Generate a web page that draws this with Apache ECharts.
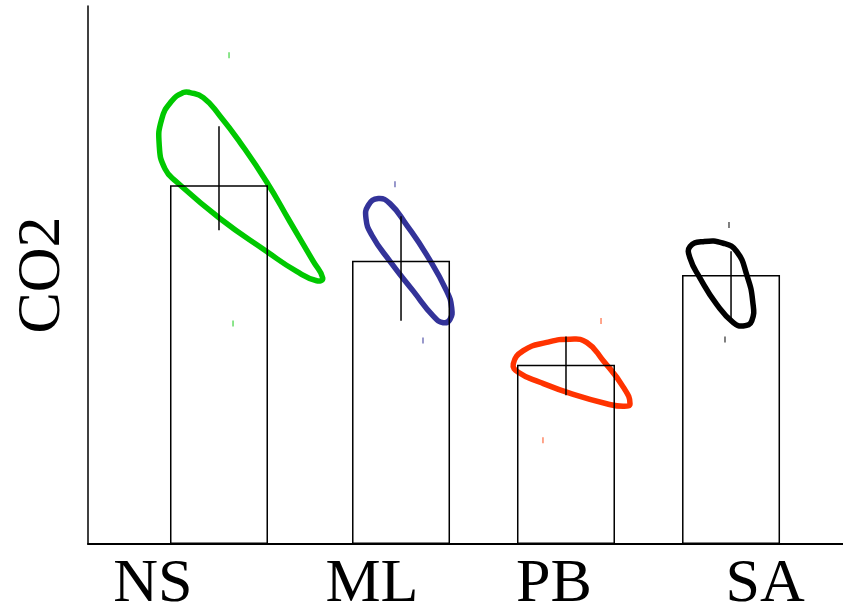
<!DOCTYPE html>
<html>
<head>
<meta charset="utf-8">
<script src="https://cdn.jsdelivr.net/npm/echarts@6/dist/echarts.min.js"></script>
<style>
  html, body { margin: 0; padding: 0; background: #fff; }
  #chart { width: 843px; height: 616px; }
</style>
</head>
<body>
<div id="chart"></div>
<script>
// categories and where their labels sit on the x scale
const categories = ['NS', 'ML', 'PB', 'SA'];
const labelX = [8.6, 37.6, 61.7, 89.7];

// bar means and error bar ranges (CO2)
const barX = [17.35, 41.46, 63.31, 85.17];
const barValues = [20.0, 15.8, 10.0, 15.0];
const errLow = [17.5, 12.45, 8.3, 12.45];
const errHigh = [23.3, 18.27, 11.57, 16.33];

// confidence contours around each group
const loopNS = [[13.51, 25.17], [15.27, 24.89], [17.48, 23.87], [20.13, 22.40], [23.67, 20.19], [26.75, 17.97],
  [29.84, 15.76], [31.09, 14.83], [30.29, 14.68], [27.64, 15.20], [23.67, 16.31], [17.48, 18.15],
  [11.75, 20.19], [10.20, 20.92], [9.44, 22.21], [9.76, 23.69], [11.09, 24.70], [12.62, 25.17]];
const loopML = [[38.45, 19.26], [40.00, 18.98], [42.21, 17.78], [44.86, 16.12], [47.51, 14.10], [48.17, 13.17],
  [47.95, 12.53], [47.06, 12.34], [45.74, 12.71], [43.09, 14.10], [40.00, 15.76], [37.58, 17.23],
  [36.82, 18.15], [37.13, 18.89]];
const loopPB = [[56.33, 10.04], [57.66, 10.78], [60.75, 11.24], [63.84, 11.42], [66.05, 11.24], [68.25, 10.22],
  [70.90, 8.75], [71.79, 7.82], [70.90, 7.68], [68.70, 7.82], [64.28, 8.34], [59.87, 9.02], [56.99, 9.58]];
const loopSA = [[79.74, 16.59], [81.50, 16.86], [84.15, 16.77], [85.92, 16.31], [87.24, 15.02], [88.04, 13.54],
  [87.91, 12.44], [86.79, 12.16], [85.47, 12.34], [83.27, 13.36], [81.06, 14.83], [79.74, 15.94]];

// small marks above and below each contour
const marksNS = [[18.68, 27.26], [19.21, 12.29]];
const marksML = [[40.66, 20.06], [44.37, 11.35]];
const marksPB = [[67.95, 12.43], [60.26, 5.78]];
const marksSA = [[84.90, 17.79], [84.37, 11.40]];

const loopColors = ['#00c800', '#333399', '#ff3300', '#000000'];
const markColors = ['#66dd66', '#7777bb', '#ff8866', '#555555'];

const chart = echarts.init(document.getElementById('chart'));
const serif = '"Liberation Serif", "DejaVu Serif", serif';

function loopSeries(points, color) {
  return {
    type: 'custom',
    data: points,
    z: 2,
    renderItem: function (params, api) {
      if (params.dataIndex !== 0) return null;
      return {
        type: 'polygon',
        shape: { points: points.map(p => api.coord(p)), smooth: 0.5 },
        style: { fill: 'none', stroke: color, lineWidth: 5.5, lineJoin: 'round' }
      };
    }
  };
}

function markSeries(points, color) {
  return {
    type: 'custom',
    data: points,
    z: 2,
    renderItem: function (params, api) {
      const c = api.coord([api.value(0), api.value(1)]);
      return {
        type: 'line',
        shape: { x1: c[0], y1: c[1] - 3, x2: c[0], y2: c[1] + 3 },
        style: { stroke: color, lineWidth: 1.5 }
      };
    }
  };
}

const loops = [loopNS, loopML, loopPB, loopSA];
const marks = [marksNS, marksML, marksPB, marksSA];

const series = [];
loops.forEach((l, i) => series.push(loopSeries(l, loopColors[i])));
marks.forEach((m, i) => series.push(markSeries(m, markColors[i])));

series.push({
  type: 'bar',
  data: barX.map((x, i) => [x, barValues[i]]),
  barWidth: 98,
  z: 5,
  itemStyle: { color: 'rgba(0,0,0,0)', borderColor: '#000', borderWidth: 1.5 }
});

series.push({
  type: 'custom',
  data: barX.map((x, i) => [x, errLow[i], errHigh[i]]),
  z: 6,
  renderItem: function (params, api) {
    const lo = api.coord([api.value(0), api.value(1)]);
    const hi = api.coord([api.value(0), api.value(2)]);
    return {
      type: 'line',
      shape: { x1: lo[0], y1: lo[1], x2: hi[0], y2: hi[1] },
      style: { stroke: '#000', lineWidth: 1.5 }
    };
  }
});

chart.setOption({
  animation: false,
  backgroundColor: '#fff',
  grid: { left: 88, right: 0, top: 6, bottom: 67 },
  xAxis: {
    type: 'value',
    min: 0,
    max: 100,
    splitLine: { show: false },
    axisTick: { show: false },
    axisLine: { lineStyle: { color: '#000', width: 2 } },
    axisLabel: {
      customValues: labelX,
      formatter: function (v) {
        const i = labelX.indexOf(v);
        return i >= 0 ? categories[i] : '';
      },
      color: '#000',
      fontFamily: serif,
      fontSize: 62,
      margin: 10
    }
  },
  yAxis: {
    type: 'value',
    min: 0,
    max: 30,
    name: 'CO2',
    nameLocation: 'middle',
    nameRotate: 90,
    nameGap: 14,
    nameTextStyle: { color: '#000', fontFamily: serif, fontSize: 62 },
    splitLine: { show: false },
    axisTick: { show: false },
    axisLabel: { show: false },
    axisLine: { show: true, lineStyle: { color: '#000', width: 1.5 } }
  },
  series: series
});
</script>
</body>
</html>
